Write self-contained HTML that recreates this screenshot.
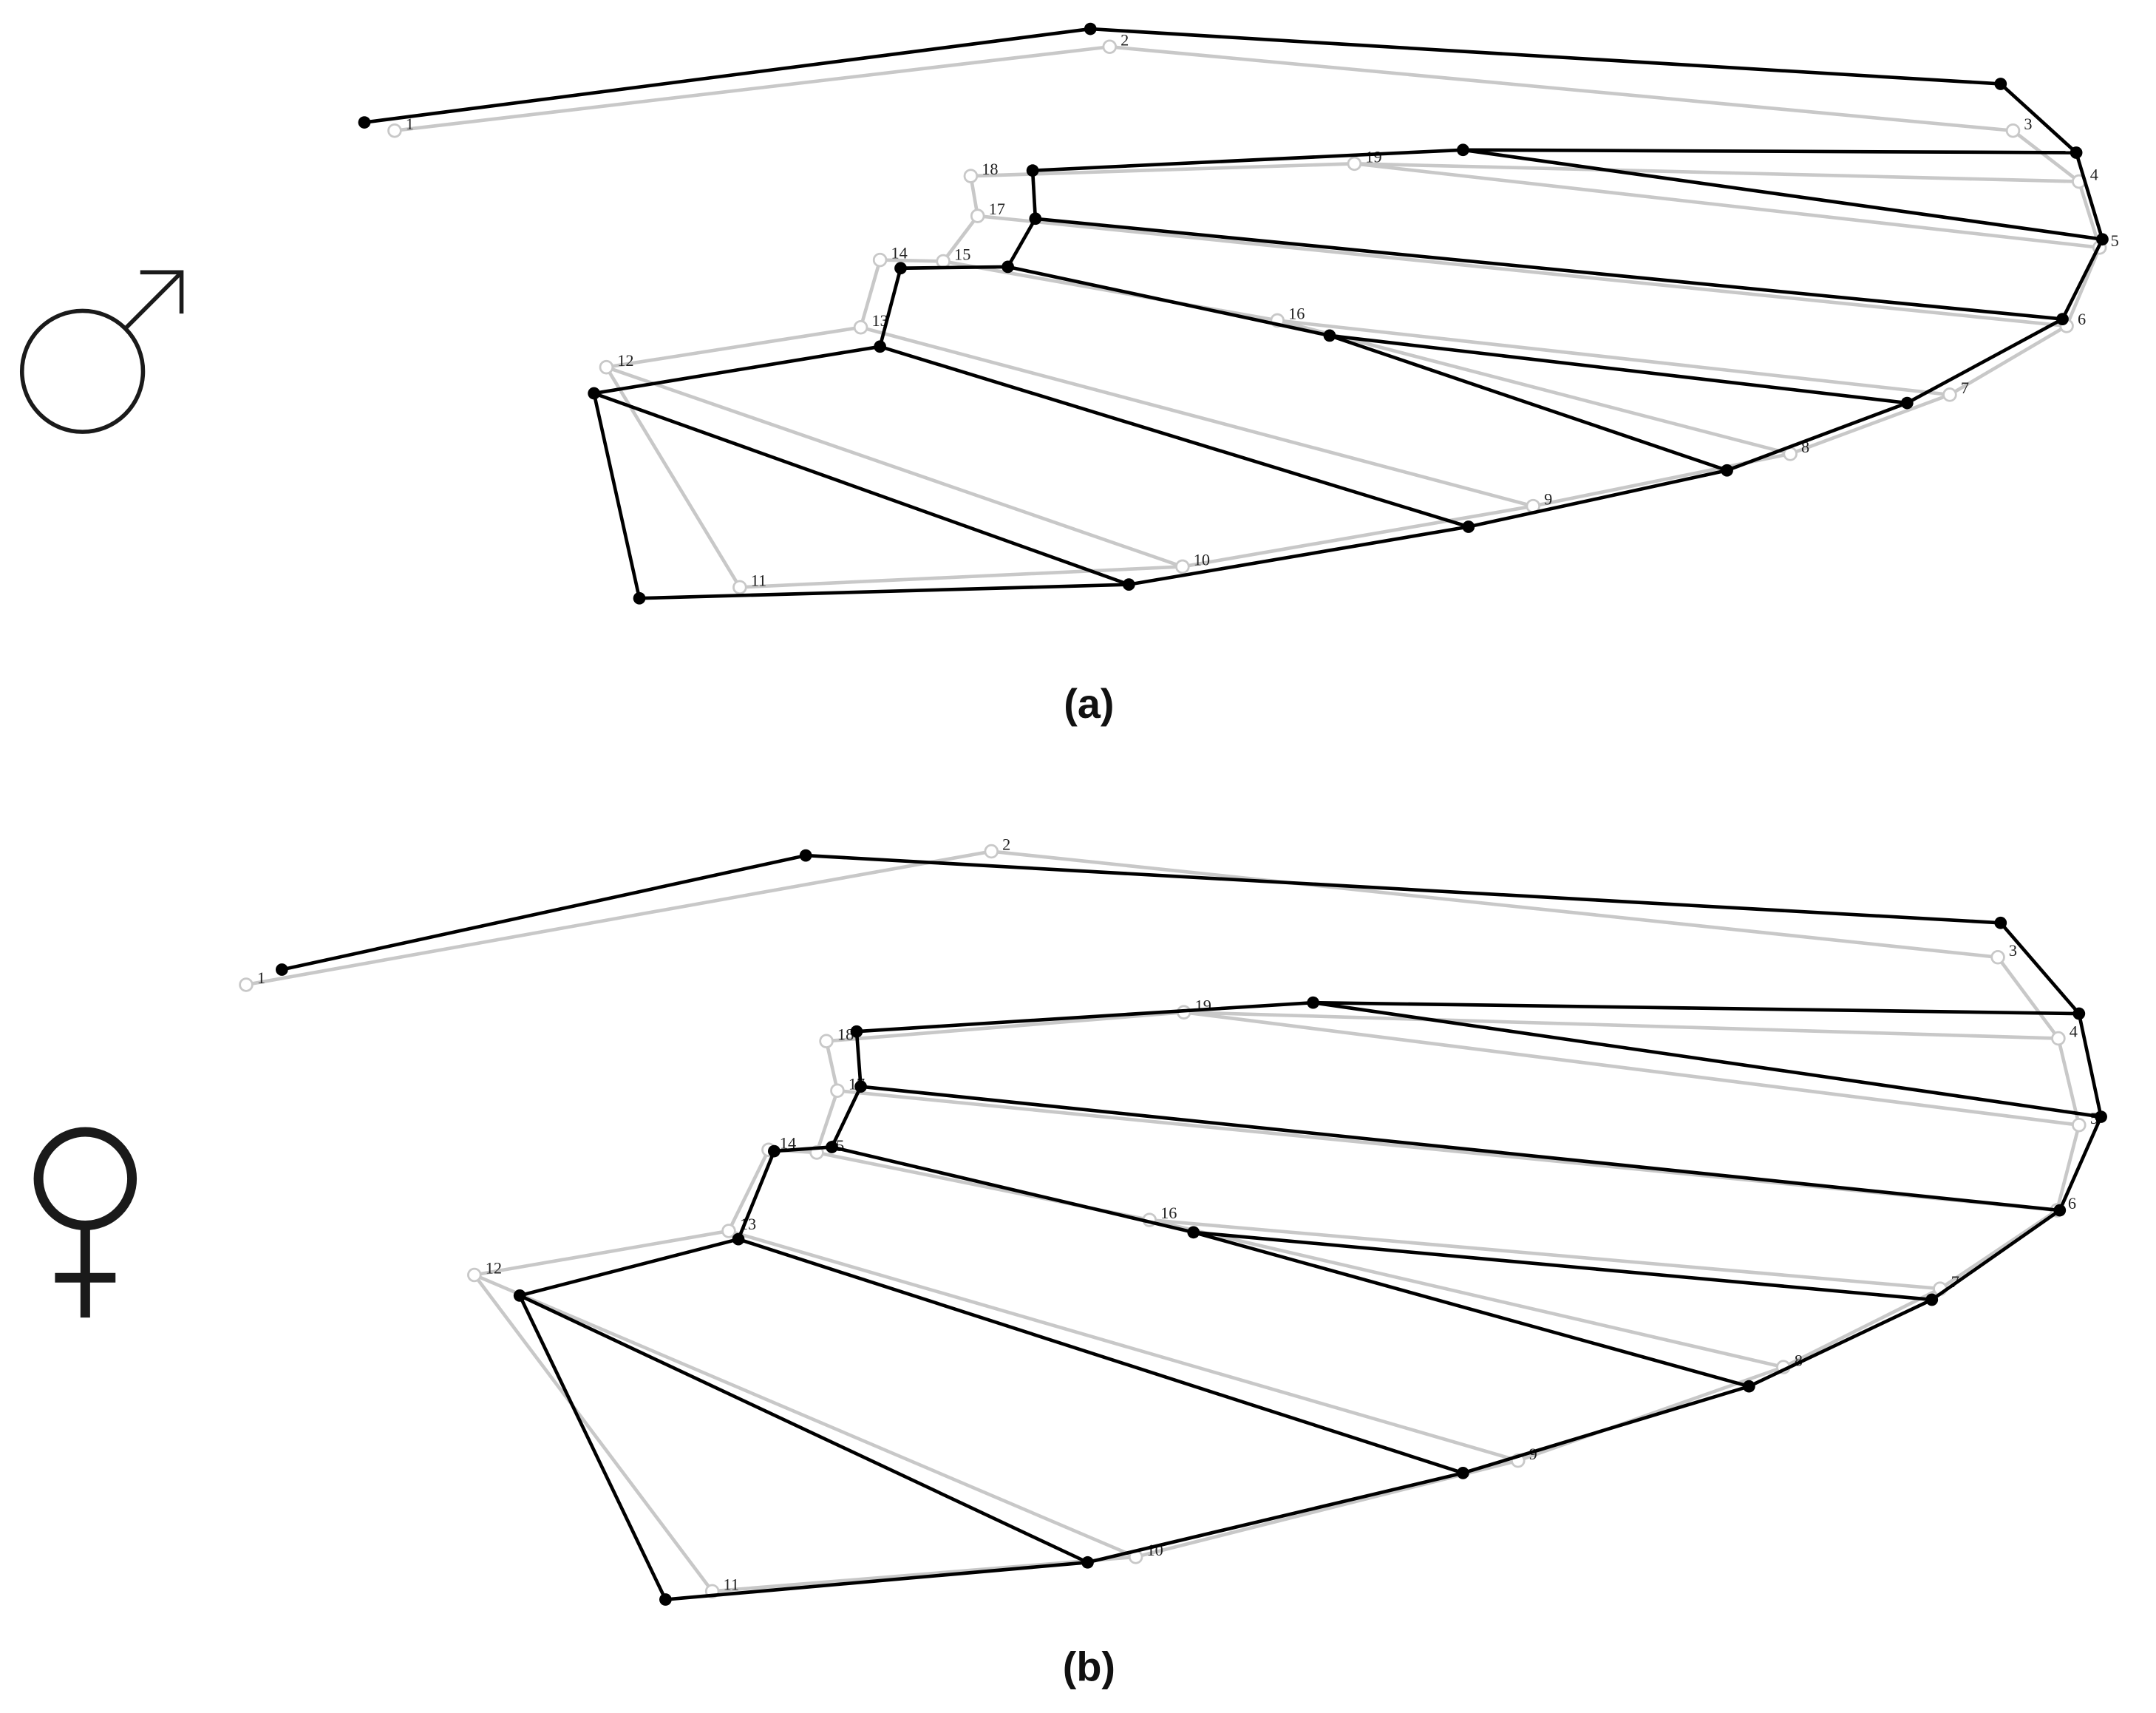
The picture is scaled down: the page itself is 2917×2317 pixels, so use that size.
<!DOCTYPE html>
<html><head><meta charset="utf-8"><style>
html,body{margin:0;padding:0;background:#fff;}
svg{display:block;}
</style></head><body>
<svg width="2917" height="2317" viewBox="0 0 1568 1245.5" preserveAspectRatio="none" xmlns="http://www.w3.org/2000/svg">
<rect width="1568" height="1246" fill="#fff"/>
<g id="content"></g>
<circle cx="60" cy="270" r="44" fill="none" stroke="#1a1a1a" stroke-width="3"/>
<line x1="91" y1="239" x2="132" y2="198" stroke="#1a1a1a" stroke-width="3"/>
<polyline points="102,198 132,198 132,228" fill="none" stroke="#1a1a1a" stroke-width="3"/>
<circle cx="62" cy="857" r="34" fill="none" stroke="#1a1a1a" stroke-width="7"/>
<line x1="62" y1="891" x2="62" y2="958" stroke="#1a1a1a" stroke-width="7"/>
<line x1="40" y1="929" x2="84" y2="929" stroke="#1a1a1a" stroke-width="7"/>
<text x="792" y="522" font-family="Liberation Sans, sans-serif" font-weight="bold" font-size="30" text-anchor="middle" fill="#111">(a)</text>
<text x="792" y="1222" font-family="Liberation Sans, sans-serif" font-weight="bold" font-size="30" text-anchor="middle" fill="#111">(b)</text>
</svg>
<script>
const edges=[[1,2],[2,3],[3,4],[4,5],[5,6],[6,7],[7,8],[8,9],[9,10],[10,11],[11,12],[12,13],[13,14],[14,15],[15,17],[17,18],[18,19],[19,4],[19,5],[17,6],[15,16],[16,7],[16,8],[13,9],[12,10]];
const mB={1:[265,89],2:[793,21],3:[1455,61],4:[1510,111],5:[1529,174],6:[1500,232],7:[1387,293],8:[1256,342],9:[1068,383],10:[821,425],11:[465,435],12:[432,286],13:[640,252],14:[655,195],15:[733,194],16:[967,244],17:[753,159],18:[751,124],19:[1064,109]};
const mG={1:[287,95],2:[807,34],3:[1464,95],4:[1512,132],5:[1527,180],6:[1503,237],7:[1418,287],8:[1302,330],9:[1115,368],10:[860,412],11:[538,427],12:[441,267],13:[626,238],14:[640,189],15:[686,190],16:[929,233],17:[711,157],18:[706,128],19:[985,119]};
const fB={1:[205,705],2:[586,622],3:[1455,671],4:[1512,737],5:[1528,812],6:[1498,880],7:[1405,945],8:[1272,1008],9:[1064,1071],10:[791,1136],11:[484,1163],12:[378,942],13:[537,901],14:[563,837],15:[605,834],16:[868,896],17:[626,790],18:[623,750],19:[955,729]};
const fG={1:[179,716],2:[721,619],3:[1453,696],4:[1497,755],5:[1512,818],6:[1496,880],7:[1411,937],8:[1297,994],9:[1104,1062],10:[826,1132],11:[518,1157],12:[345,927],13:[530,895],14:[559,836],15:[594,838],16:[836,887],17:[609,793],18:[601,757],19:[861,736]};
let s='';
function draw(P,col,filled){
 for(const [a,b] of edges){s+=`<line x1="${P[a][0]}" y1="${P[a][1]}" x2="${P[b][0]}" y2="${P[b][1]}" stroke="${col}" stroke-width="2.5"/>`;}
 for(const k in P){ if(filled) s+=`<circle cx="${P[k][0]}" cy="${P[k][1]}" r="4.5" fill="#000"/>`; else s+=`<circle cx="${P[k][0]}" cy="${P[k][1]}" r="4.5" fill="#fff" stroke="${col}" stroke-width="1.5"/>`;}
}
function labels(P){for(const k in P){s+=`<text x="${P[k][0]+8}" y="${P[k][1]-1}" font-family="Liberation Serif, serif" font-size="12" fill="#222">${k}</text>`;}}
draw(mG,'#c8c8c8',false);labels(mG);draw(mB,'#000',true);
draw(fG,'#c8c8c8',false);labels(fG);draw(fB,'#000',true);
document.getElementById('content').innerHTML=s;
</script>
</body></html>
